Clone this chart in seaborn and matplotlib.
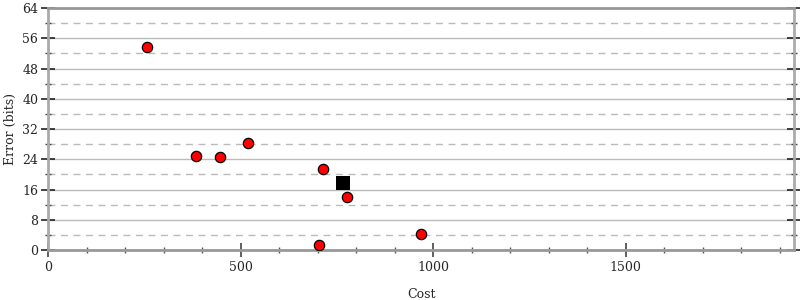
import matplotlib
matplotlib.use("Agg")
import matplotlib.pyplot as plt
import seaborn as sns
import pandas as pd
from matplotlib.ticker import MultipleLocator

cost = [257, 384, 447, 519, 714, 776, 704, 969]
error = [53.7, 24.9, 24.6, 28.3, 21.4, 14.0, 1.3, 4.2]
best_cost = [766]
best_error = [17.7]

sns.set_theme(style="white")
plt.rcParams['font.family'] = ['DejaVu Serif']

fig = plt.figure(figsize=(8, 3), dpi=100)
ax = fig.add_axes([0.06, 0.1667, 0.9325, 0.8063])

df = pd.DataFrame({"Cost": cost, "Error": error})
sns.scatterplot(data=df, x="Cost", y="Error", ax=ax, color="#ff0000",
                edgecolor="black", linewidth=0.9, s=55, zorder=3)
dfb = pd.DataFrame({"Cost": best_cost, "Error": best_error})
sns.scatterplot(data=dfb, x="Cost", y="Error", ax=ax, color="black",
                marker="s", s=90, linewidth=0, zorder=3)

ax.set_xlim(0, 1937)
ax.set_ylim(0, 64)
ax.xaxis.set_major_locator(MultipleLocator(500))
ax.xaxis.set_minor_locator(MultipleLocator(100))
ax.yaxis.set_major_locator(MultipleLocator(8))
ax.yaxis.set_minor_locator(MultipleLocator(4))

ax.grid(True, which="major", axis="y", color="#bbbbbb", linewidth=1, linestyle="-")
ax.grid(True, which="minor", axis="y", color="#bbbbbb", linewidth=1, linestyle=(0, (5, 4)))
ax.set_axisbelow(True)

for side in ["left", "right", "bottom", "top"]:
    ax.spines[side].set_color("#aaaaaa")
    ax.spines[side].set_linewidth(2)
ax.spines["top"].set_color("#999999")
ax.spines["bottom"].set_color("#999999")

ax.tick_params(axis="y", which="major", direction="inout", length=10, width=1.2,
               color="#222222", left=True, right=True, labelsize=9, pad=2)
ax.tick_params(axis="y", which="minor", direction="inout", length=5, width=1,
               color="#444444", left=True, right=True)
ax.tick_params(axis="x", which="major", direction="inout", length=10, width=1.2,
               color="#444444", bottom=True, labelsize=9, pad=3)
ax.tick_params(axis="x", which="minor", direction="inout", length=5, width=1,
               color="#555555", bottom=True)

ax.set_xlabel("Cost", fontsize=9, labelpad=10)
ax.set_ylabel("Error (bits)", fontsize=9, labelpad=4)

fig.savefig("out.png", dpi=100)
